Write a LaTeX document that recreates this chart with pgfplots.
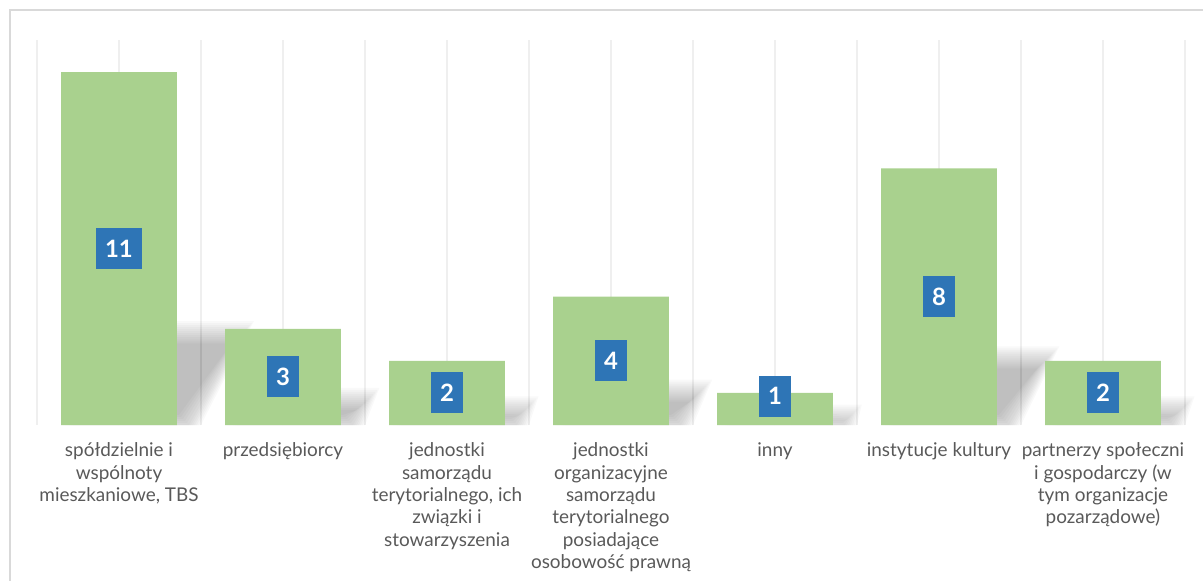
\documentclass[border=0pt]{standalone}
\usepackage{pgfplots}
\usepackage{pgfplotstable}
\pgfplotsset{compat=1.18}
\usepackage{fontspec}
\setmainfont{Lato}
\definecolor{barg}{HTML}{A9D18E}
\definecolor{boxb}{HTML}{2E75B6}
\definecolor{lblgray}{HTML}{595959}
\definecolor{gridc}{HTML}{EFEFEF}
\definecolor{framec}{HTML}{D9D9D9}

\pgfplotstableread{
x y ly
0 11 5.5
1 3 1.5
2 2 1.0
3 4 2.0
4 1 0.9
5 8 4.0
6 2 1.0
}\datatab

% shadow behind a bar: #1 centre, #2 height
\newcommand\barshadow[2]{%
  \foreach \e in {-12,-10,-8,-6,-4,-2,0,2,4,6,8,10}{%
    \pgfmathsetmacro\ex{\e*0.0061}%
    \pgfmathsetmacro\ey{\e*0.0312}%
    \pgfmathsetmacro\eyb{max(0,\ey)}%
    \pgfmathsetmacro\xl{#1-0.3537+0.073}%
    \pgfmathsetmacro\xr{#1+0.3537+0.073}%
    \pgfmathsetmacro\tt{0.0293*#2}%
    \pgfmathsetmacro\tp{max(0.26*#2-\ey,\eyb+0.02)}%
    \fill[black,opacity=0.022] (axis cs:\xl+\ex,\eyb) -- (axis cs:\xr-\ex,\eyb)
      -- (axis cs:\xr+\tt-\ex,\tp) -- (axis cs:\xl+\tt+\ex,\tp) -- cycle;
  }%
}

\begin{document}
\begin{tikzpicture}
\begin{axis}[
  scale only axis,
  width=1148bp, height=385bp,
  xmin=-0.5, xmax=6.5, ymin=0, ymax=12,
  axis line style={draw=none},
  tick style={draw=none},
  ytick=\empty,
  xtick={0,...,6},
  minor xtick={-0.5,0.5,...,6.5},
  xmajorgrids, xminorgrids,
  major grid style={gridc, line width=1.5bp},
  minor grid style={gridc, line width=1.5bp},
  xticklabels={
    {spółdzielnie i\\wspólnoty\\mieszkaniowe, TBS},
    {przedsiębiorcy},
    {jednostki\\samorządu\\terytorialnego, ich\\związki i\\stowarzyszenia},
    {jednostki\\organizacyjne\\samorządu\\terytorialnego\\posiadające\\osobowość prawną},
    {inny},
    {instytucje kultury},
    {partnerzy społeczni\\i gospodarczy (w\\tym organizacje\\pozarządowe)}
  },
  x tick label style={align=center, font=\fontsize{19}{22.4}\selectfont,
    text=lblgray, anchor=north, yshift=-14.5bp},
  clip=false,
]
\pgfplotsextra{%
  \barshadow{0}{11}\barshadow{1}{3}\barshadow{2}{2}\barshadow{3}{4}%
  \barshadow{4}{1}\barshadow{5}{8}\barshadow{6}{2}%
}
\addplot[ybar, bar width=0.707, bar shift=0pt, fill=barg, draw=none]
  table[x=x, y=y] {\datatab};
\addplot[only marks, mark=none, nodes near coords, point meta=explicit symbolic,
  every node near coord/.style={anchor=center, fill=boxb, text=white,
    font=\bfseries\fontsize{24}{24}\selectfont, minimum height=41bp,
    inner xsep=9bp, inner ysep=0pt}]
  table[x=x, y=ly, meta=y] {\datatab};
\end{axis}
\coordinate (O) at (current axis.south west);
\draw[framec, line width=1.5bp, shift={(O)}] (-27bp,-156bp) -- (-27bp,415bp) -- (1166bp,415bp);
\pgfresetboundingbox
\path[shift={(O)}] (-37bp,-156bp) rectangle (1166bp,425bp);
\end{tikzpicture}
\end{document}
